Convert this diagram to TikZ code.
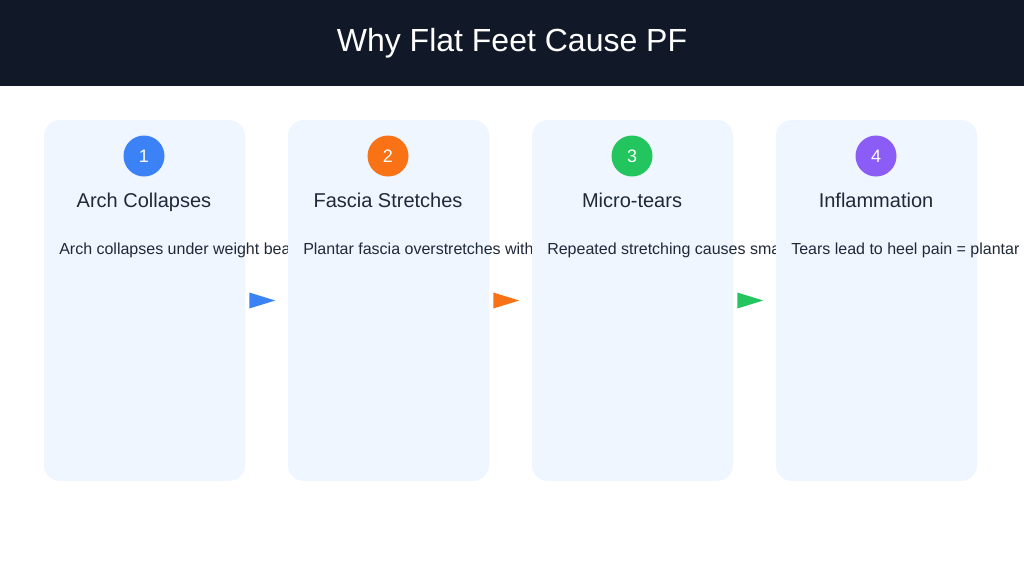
\documentclass[tikz,border=0pt]{standalone}
\usepackage{fontspec}
\setmainfont{Liberation Sans}
\definecolor{hdrbg}{HTML}{111827}
\definecolor{cardbg}{HTML}{EFF6FF}
\definecolor{ink}{HTML}{1F2937}
\definecolor{stepblue}{HTML}{3B82F6}
\definecolor{steporange}{HTML}{F97316}
\definecolor{stepgreen}{HTML}{22C55E}
\definecolor{steppurple}{HTML}{8B5CF6}
\begin{document}
\begin{tikzpicture}[x=0.75pt,y=-0.75pt,
  card/.style={fill=cardbg,rounded corners=12pt,minimum width=150.75pt,minimum height=270.75pt,inner sep=0pt},
  num/.style={circle,minimum size=30.75pt,inner sep=0pt,text=white,font=\fontsize{13.5}{16}\selectfont},
  ttl/.style={text=ink,anchor=base,inner sep=0pt,font=\fontsize{15}{18}\selectfont},
  body/.style={text=ink,anchor=base west,inner sep=0pt,font=\fontsize{12}{14}\selectfont}]
\useasboundingbox (0,0) rectangle (1024,576);
\clip (0,0) rectangle (1024,576);
\fill[white] (0,0) rectangle (1024,576);
% header
\fill[hdrbg] (0,0) rectangle (1024,86);
\node[text=white,font=\fontsize{24}{28}\selectfont] (title) at (512,43) {Why Flat Feet Cause PF};
% step 1
\node[card] (c1) at (144.5,300.5) {};
\node[num,fill=stepblue] (n1) at (144,156) {1};
\node[ttl] (t1) at (144,207) {Arch Collapses};
\node[body] (b1) at (59,254) {Arch collapses under weight bearing};
% step 2
\node[card] (c2) at (388.5,300.5) {};
\node[num,fill=steporange] (n2) at (388,156) {2};
\node[ttl] (t2) at (388,207) {Fascia Stretches};
\node[body] (b2) at (303,254) {Plantar fascia overstretches with each step};
% step 3
\node[card] (c3) at (632.5,300.5) {};
\node[num,fill=stepgreen] (n3) at (632,156) {3};
\node[ttl] (t3) at (632,207) {Micro-tears};
\node[body] (b3) at (547,254) {Repeated stretching causes small tears};
% step 4
\node[card] (c4) at (876.5,300.5) {};
\node[num,fill=steppurple] (n4) at (876,156) {4};
\node[ttl] (t4) at (876,207) {Inflammation};
\node[body] (b4) at (791,254) {Tears lead to heel pain = plantar fasciitis};
% arrows
\fill[stepblue] ([xshift=3pt,yshift=6pt]c1.east) -- ([xshift=22.5pt]c1.east) -- ([xshift=3pt,yshift=-6pt]c1.east) -- cycle;
\fill[steporange] ([xshift=3pt,yshift=6pt]c2.east) -- ([xshift=22.5pt]c2.east) -- ([xshift=3pt,yshift=-6pt]c2.east) -- cycle;
\fill[stepgreen] ([xshift=3pt,yshift=6pt]c3.east) -- ([xshift=22.5pt]c3.east) -- ([xshift=3pt,yshift=-6pt]c3.east) -- cycle;
\end{tikzpicture}
\end{document}
